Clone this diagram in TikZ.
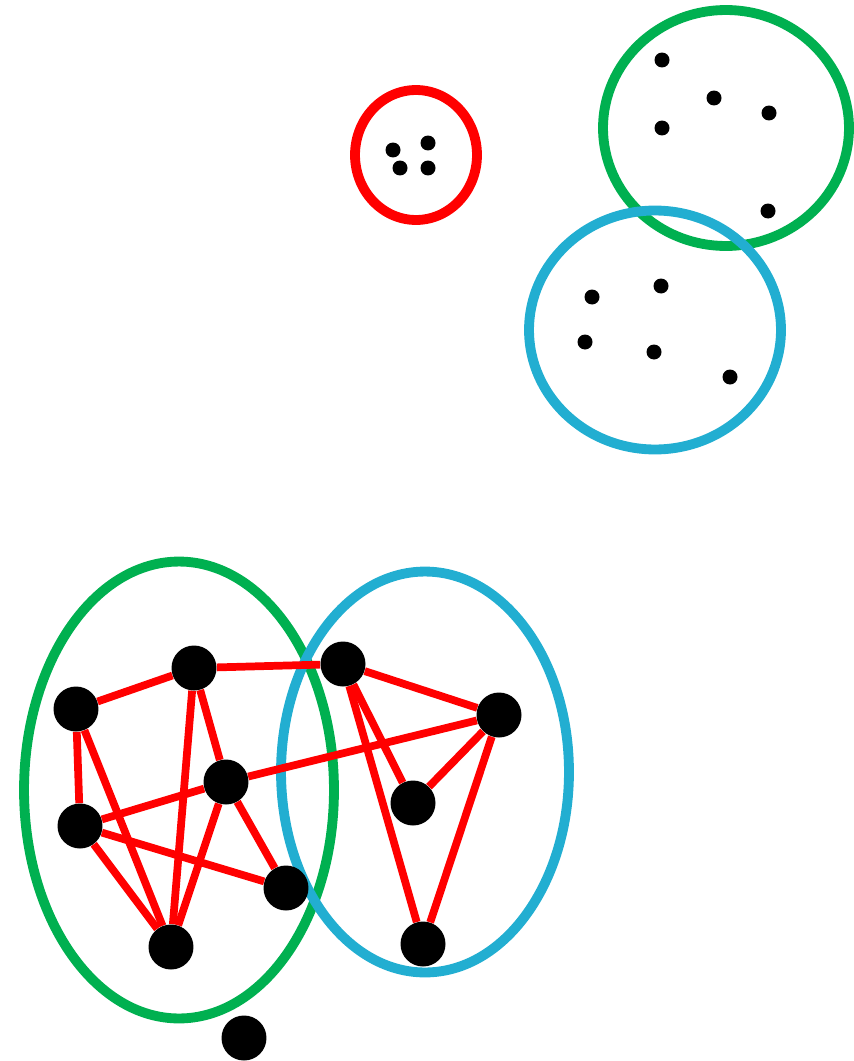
\documentclass[tikz,border=0pt]{standalone}
\usepackage{amsmath}
\usepackage{tikz}
\definecolor{setgreen}{HTML}{00B050}
\definecolor{setblue}{HTML}{22AED1}
\pgfdeclarelayer{sets}
\pgfdeclarelayer{edges}
\pgfsetlayers{sets,edges,main}
\tikzset{
  vertex/.style={circle, fill=black, inner sep=0pt, minimum size=0.9cm},
  point/.style={circle, fill=black, inner sep=0pt, minimum size=0.3cm},
  boundary/.style={line width=5.6pt},
  link/.style={red, line width=4.4pt}
}

\begin{document}
\begin{tikzpicture}[x=0.02cm, y=-0.02cm]
        \useasboundingbox (0,0) rectangle (854,1061);
        % Conjunts de dalt: els punts petits
        \begin{pgfonlayer}{sets}
        \draw[boundary, red] (416,155) ellipse [x radius=1.22cm, y radius=1.30cm];
        \draw[boundary, setgreen] (726,128) ellipse [x radius=2.46cm, y radius=2.36cm];
        \draw[boundary, setblue] (655,330) ellipse [x radius=2.52cm, y radius=2.39cm];
        \end{pgfonlayer}
        \foreach \px/\py [count=\i] in {393/150, 428/143, 400/168, 428/168,
                                        662/60, 714/98, 662/128, 769/113, 768/211,
                                        592/297, 661/286, 585/342, 654/352, 730/377}
            \node[point] (p\i) at (\px,\py) {};

        % Conjunts de baix: el graf
        \begin{pgfonlayer}{sets}
        \draw[boundary, setgreen] (179,790) ellipse [x radius=3.10cm, y radius=4.57cm];
        \draw[boundary, setblue] (425,772) ellipse [x radius=2.88cm, y radius=4.01cm];
        \end{pgfonlayer}
        \node[vertex] (a) at (76,709) {};
        \node[vertex] (b) at (194,668) {};
        \node[vertex] (c) at (343,664) {};
        \node[vertex] (d) at (499,715) {};
        \node[vertex] (e) at (226,782) {};
        \node[vertex] (f) at (413,803) {};
        \node[vertex] (g) at (80,826) {};
        \node[vertex] (h) at (286,888) {};
        \node[vertex] (k) at (171,947) {};
        \node[vertex] (m) at (423,944) {};
        \node[vertex] (n) at (244,1038) {};
        \begin{pgfonlayer}{edges}
        \foreach \u/\v in {a/b, b/c, a/g, a/k, b/k, b/e, e/g, e/d, e/k, e/h,
                           g/k, g/h, c/d, c/f, c/m, d/f, d/m}
            \draw[link] (\u) -- (\v);
        \end{pgfonlayer}
\end{tikzpicture}
\end{document}
